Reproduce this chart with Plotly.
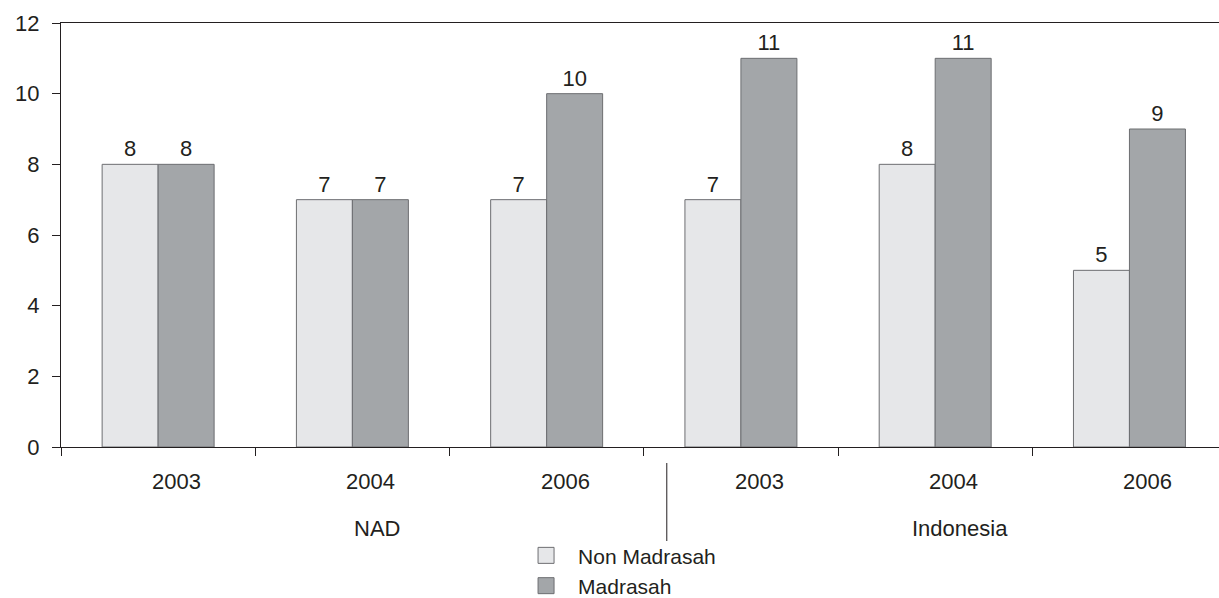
import plotly.graph_objects as go

years = ["2003", "2004", "2006", "2003", "2004", "2006"]
groups = ["NAD", "Indonesia"]
group_centers = [1, 4]
non_madrasah = [8, 7, 7, 7, 8, 5]
madrasah = [8, 7, 10, 11, 11, 9]
series_names = ["Non Madrasah", "Madrasah"]
colors = ["#e6e7e9", "#a3a6a9"]
edge = "#6d6e71"
ink = "#231f20"
font = "Liberation Sans, Arial, sans-serif"
xpos = list(range(len(years)))

fig = go.Figure()
for name, vals, col in zip(series_names, [non_madrasah, madrasah], colors):
    fig.add_trace(go.Bar(
        x=xpos, y=vals, name=name, showlegend=False,
        marker=dict(color=col, line=dict(color=edge, width=1)),
        text=[str(v) for v in vals], textposition="outside",
        textfont=dict(size=22, color=ink, family=font),
        cliponaxis=False,
    ))
    fig.add_trace(go.Scatter(
        x=[None], y=[None], mode="markers", name=name,
        marker=dict(symbol="square", size=16, color=col, line=dict(color=edge, width=1)),
    ))

for i, yl in enumerate(years):
    fig.add_annotation(x=i, y=0, xref="x", yref="paper", text=yl, showarrow=False,
                       xshift=18.5, yshift=-34, yanchor="middle",
                       font=dict(size=22, color=ink, family=font))
for gx, gl in zip(group_centers, groups):
    fig.add_annotation(x=gx, y=0, xref="x", yref="paper", text=gl, showarrow=False,
                       xshift=25, yshift=-81, yanchor="middle",
                       font=dict(size=22, color=ink, family=font))

fig.add_shape(type="line", xref="x", yref="paper", xsizemode="pixel", ysizemode="pixel",
              xanchor=2.5, yanchor=0, x0=23, x1=23, y0=-16, y1=-94,
              line=dict(color=ink, width=1))

fig.update_layout(
    width=1219, height=598,
    margin=dict(l=61, r=0, t=23, b=151, autoexpand=False),
    paper_bgcolor="white", plot_bgcolor="white",
    barmode="group", bargap=0.4236, bargroupgap=0,
    font=dict(family=font, size=22, color=ink),
    showlegend=True,
    legend=dict(xref="container", yref="container", x=0.4217, xanchor="left",
                y=0.105, yanchor="top", itemwidth=54,
                font=dict(size=21, color=ink, family=font),
                bgcolor="rgba(0,0,0,0)", tracegroupgap=0),
    xaxis=dict(range=[-0.5, 5.461], showgrid=False, zeroline=False,
               showline=True, linecolor=ink, linewidth=1, mirror=True,
               ticks="outside", ticklen=8, tickcolor=ink,
               tickvals=[-0.5, 0.5, 1.5, 2.5, 3.5, 4.5], showticklabels=False),
    yaxis=dict(range=[0, 12], showgrid=False, zeroline=False,
               showline=True, linecolor=ink, linewidth=1,
               ticks="outside", ticklen=8, tickcolor=ink,
               tickvals=[0, 2, 4, 6, 8, 10, 12],
               tickfont=dict(size=22, color=ink, family=font), ticklabelstandoff=8),
)

fig.write_html("out.html")
